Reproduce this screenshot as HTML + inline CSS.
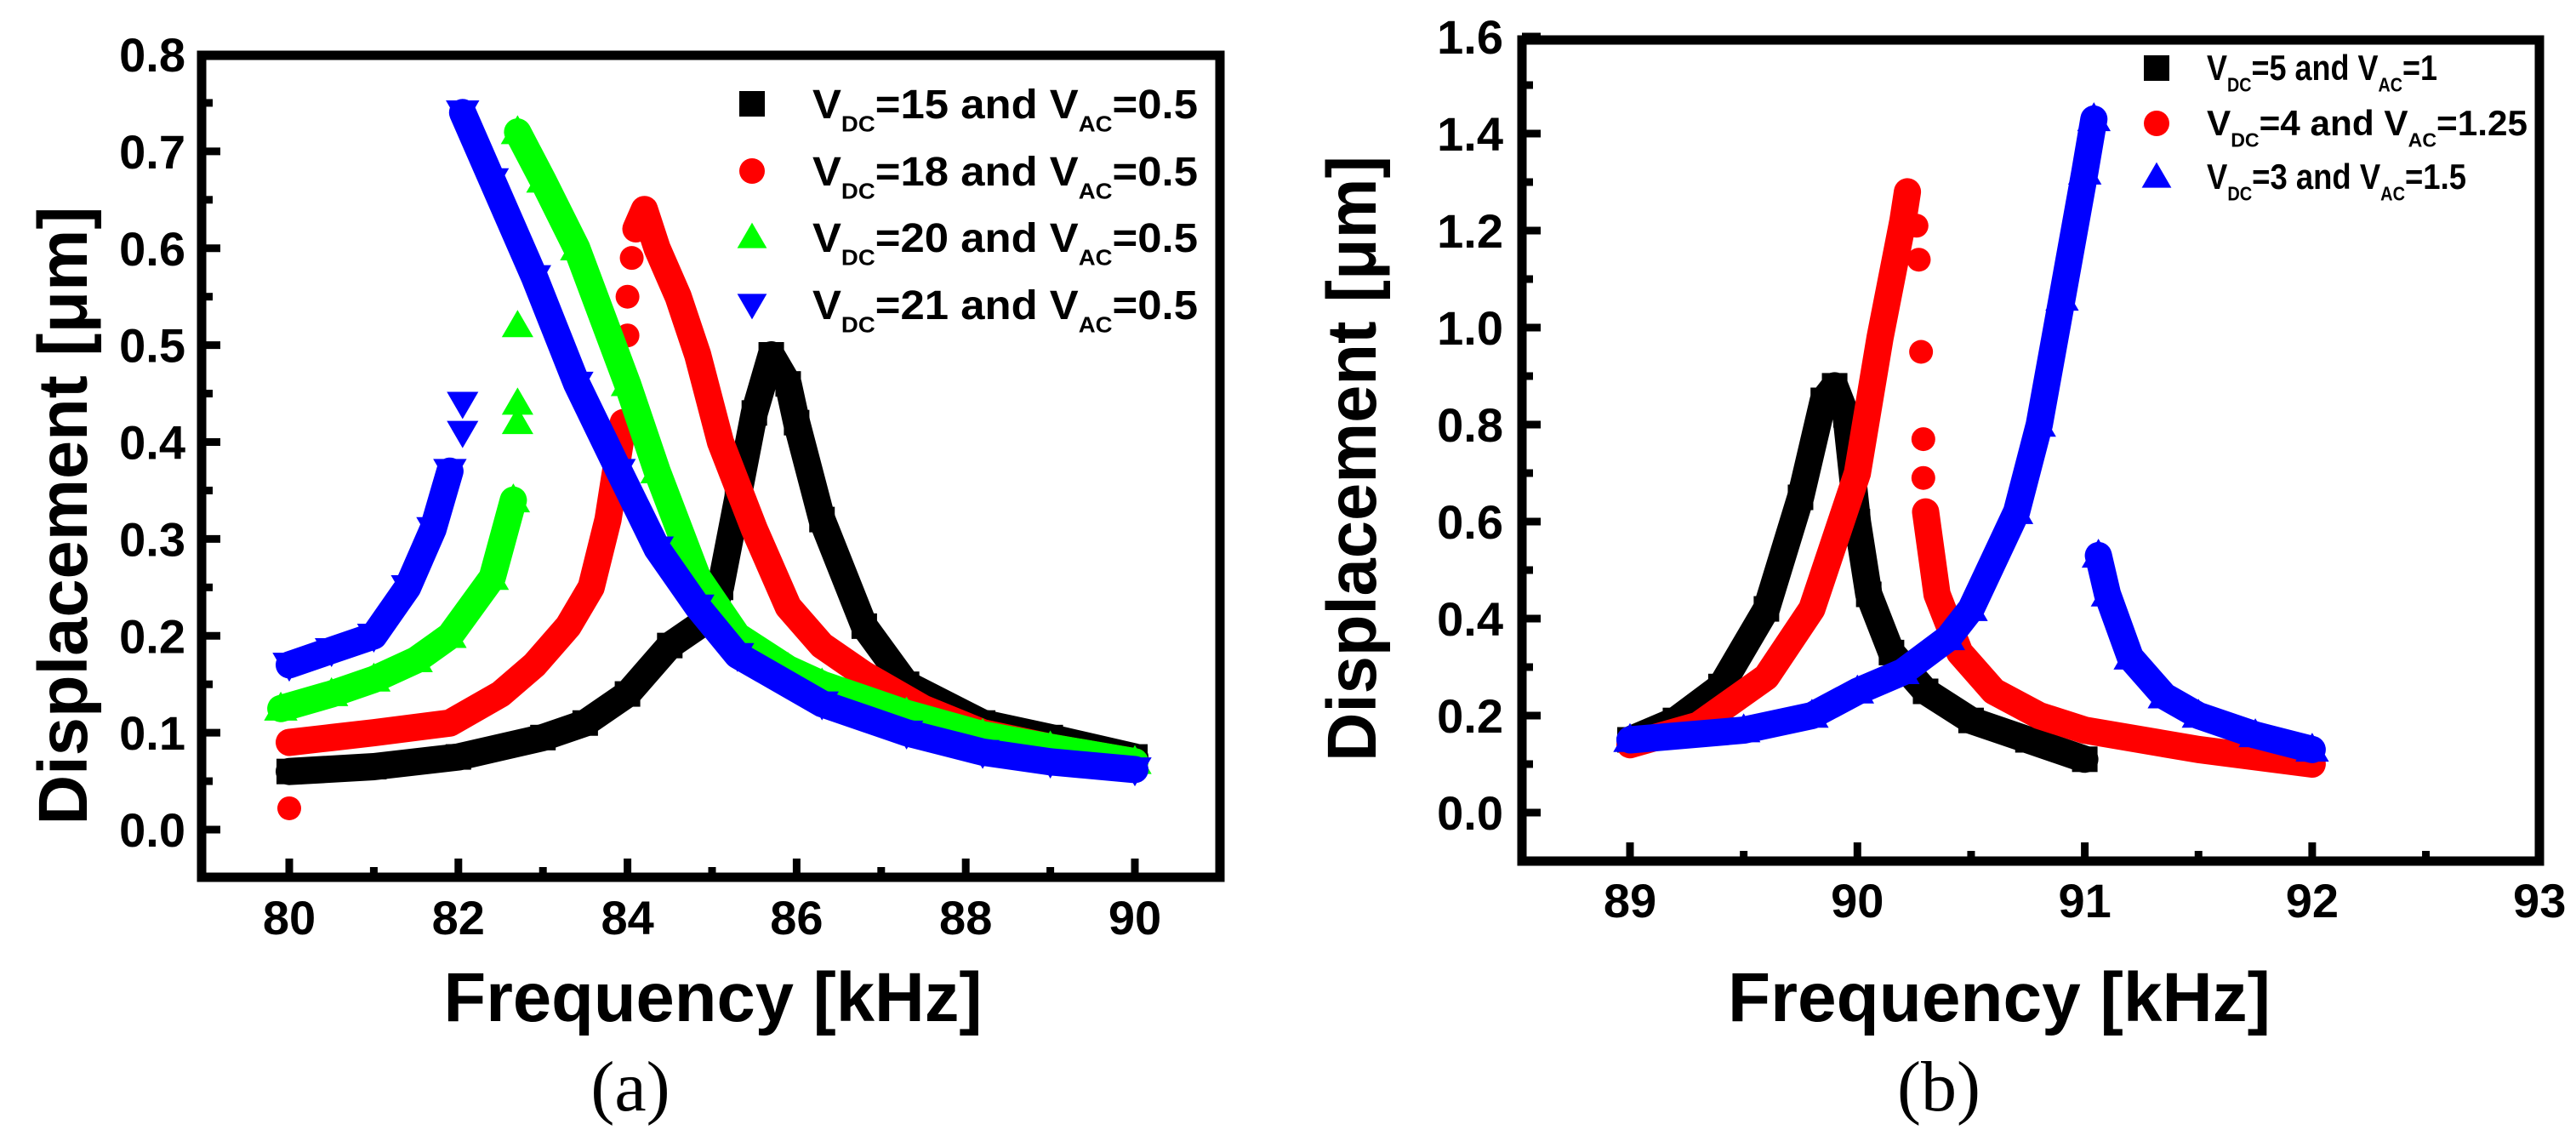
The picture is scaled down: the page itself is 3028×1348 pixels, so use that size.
<!DOCTYPE html>
<html><head><meta charset="utf-8"><style>
html,body{margin:0;padding:0;background:#fff}
svg{display:block}
text{font-family:"Liberation Sans",Arial,sans-serif;font-weight:bold;fill:#000}
.serif{font-family:"Liberation Serif",serif;font-weight:normal}
</style></head><body>
<svg id="fig" width="3028" height="1348" viewBox="0 0 3028 1348" xmlns="http://www.w3.org/2000/svg">
<rect x="0" y="0" width="3028" height="1348" fill="#fff"/>
<g id="pa"></g>
<g id="pb"></g>
<text x="741" y="1305" font-size="84" text-anchor="middle" class="serif">(a)</text>
<text x="2279" y="1305" font-size="84" text-anchor="middle" class="serif">(b)</text>
</svg>
<script>
// ---- Panel (a) data ----
const aBlackF=[80,81,82,83,83.5,84,84.5,85,85.1,85.3,85.5,85.7,85.9,86.0,86.3,86.8,87.3,88.2,89,90];
const aBlackV=[0.06,0.065,0.075,0.095,0.11,0.14,0.19,0.22,0.25,0.34,0.43,0.49,0.46,0.42,0.32,0.21,0.15,0.11,0.095,0.075];
const aRedLowF=[80,80.5,81,81.9,82.5,82.9,83.3,83.57,83.77,83.95];
const aRedLowV=[0.09,0.095,0.1,0.11,0.14,0.17,0.21,0.25,0.32,0.42];
const aRedJumpF=[84.0,84.0,84.05];
const aRedJumpV=[0.51,0.55,0.59];
const aRedHighF=[84.1,84.2,84.35,84.6,84.83,85.1,85.5,85.9,86.3,86.8,87.5,88.2,89,90];
const aRedHighV=[0.62,0.64,0.6,0.55,0.49,0.4,0.31,0.23,0.19,0.16,0.125,0.1,0.085,0.07];
const aRedOutF=[80];
const aRedOutV=[0.022];
const aGreenLowF=[79.9,80.5,81,81.5,81.9,82.4,82.65];
const aGreenLowV=[0.125,0.14,0.155,0.175,0.2,0.26,0.34];
const aGreenJumpF=[82.7,82.7,82.7];
const aGreenJumpV=[0.42,0.44,0.52];
const aGreenHighF=[82.7,83.0,83.4,84,84.35,84.83,85.3,85.9,86.3,87.3,88.2,89,90];
const aGreenHighV=[0.72,0.67,0.6,0.46,0.37,0.26,0.2,0.166,0.15,0.12,0.098,0.085,0.07];
const aBlueLowF=[80,80.5,81,81.4,81.7,81.9];
const aBlueLowV=[0.17,0.185,0.2,0.25,0.31,0.37];
const aBlueJumpF=[82.05,82.05];
const aBlueJumpV=[0.41,0.44];
const aBlueHighF=[82.05,82.4,82.9,83.4,83.9,84.35,84.83,85.3,86.3,87.3,88.2,89,90];
const aBlueHighV=[0.74,0.67,0.57,0.46,0.37,0.29,0.23,0.18,0.13,0.1,0.08,0.07,0.062];
const aYTicks=["0.0","0.1","0.2","0.3","0.4","0.5","0.6","0.7","0.8"];
const aXTicks=["80","82","84","86","88","90"];
// ---- Panel (b) data ----
const bBlackF=[89,89.2,89.4,89.6,89.75,89.85,89.9,89.95,90,90.05,90.15,90.3,90.5,90.75,91];
const bBlackV=[0.15,0.19,0.26,0.42,0.65,0.85,0.88,0.82,0.6,0.45,0.33,0.25,0.19,0.15,0.11];
const bRedHighF=[89,89.3,89.6,89.8,90,90.1,90.2,90.22];
const bRedHighV=[0.14,0.18,0.28,0.42,0.7,0.98,1.22,1.28];
const bRedJumpF=[90.26,90.27,90.28,90.29,90.29];
const bRedJumpV=[1.21,1.14,0.95,0.77,0.69];
const bRedLowF=[90.3,90.35,90.45,90.6,90.8,91,91.5,92];
const bRedLowV=[0.62,0.45,0.33,0.25,0.2,0.17,0.13,0.1];
const bBlueHighF=[89,89.5,89.8,90,90.2,90.4,90.5,90.7,90.8,90.9,91,91.04];
const bBlueHighV=[0.15,0.17,0.2,0.25,0.29,0.36,0.42,0.62,0.8,1.06,1.32,1.43];
const bBlueLowF=[91.06,91.1,91.2,91.35,91.5,91.75,92];
const bBlueLowV=[0.53,0.45,0.32,0.24,0.2,0.16,0.13];
const bYTicks=["0.0","0.2","0.4","0.6","0.8","1.0","1.2","1.4","1.6"];
const bXTicks=["89","90","91","92","93"];

const NS="http://www.w3.org/2000/svg";
function mk(tag,attrs,parent){const e=document.createElementNS(NS,tag);for(const k in attrs)e.setAttribute(k,attrs[k]);parent.appendChild(e);return e;}

function makeAxes(cfg){
  return {x:f=>cfg.x0+(f-cfg.f0)*cfg.pxF, y:v=>cfg.y0-v*cfg.pxV};
}
function marker(g,shape,cx,cy,s,color){
  let e;
  if(shape==='sq'){e=mk('rect',{x:cx-s/2,y:cy-s/2,width:s,height:s,fill:color},g);}
  else if(shape==='ci'){e=mk('circle',{cx:cx,cy:cy,r:s/2,fill:color},g);}
  else if(shape==='up'){e=mk('polygon',{points:`${cx},${cy-s*0.58} ${cx-s*0.58},${cy+s*0.42} ${cx+s*0.58},${cy+s*0.42}`,fill:color},g);}
  else {e=mk('polygon',{points:`${cx},${cy+s*0.58} ${cx-s*0.58},${cy-s*0.42} ${cx+s*0.58},${cy-s*0.42}`,fill:color},g);}
  return e;
}
function band(g,ax,F,V,color,w,shape,s,name){
  let d='';
  for(let i=0;i<F.length;i++){d+=(i?'L':'M')+ax.x(F[i]).toFixed(1)+' '+ax.y(V[i]).toFixed(1);}
  if(F.length>1){
    const p=mk('path',{d:d,fill:'none',stroke:color,'stroke-width':w,'stroke-linejoin':'round','stroke-linecap':'round'},g);
    
    
  }
  for(let i=0;i<F.length;i++){
    const m=marker(g,shape,ax.x(F[i]),ax.y(V[i]),s,color);
    
    
  }
}
function points(g,ax,F,V,color,shape,s,name){
  for(let i=0;i<F.length;i++){
    const m=marker(g,shape,ax.x(F[i]),ax.y(V[i]),s,color);
    
    
  }
}
function frame(g,cfg,ax,yTicks,xTicks,yStep,xStep){
  const fr=mk('rect',{x:cfg.L,y:cfg.T,width:cfg.R-cfg.L,height:cfg.B-cfg.T,fill:'none',stroke:'#000','stroke-width':11},g);
  
  
  for(let i=0;i<yTicks.length;i++){
    const v=i*yStep, y=ax.y(v);
    const t=mk('line',{x1:cfg.L,x2:cfg.L+22,y1:y,y2:y,stroke:'#000','stroke-width':9},g);
    
    
    if(i<yTicks.length-1){
      const ym=ax.y(v+yStep/2);
      const tm=mk('line',{x1:cfg.L,x2:cfg.L+13,y1:ym,y2:ym,stroke:'#000','stroke-width':9},g);
      
      
    }
    const lb=mk('text',{x:cfg.ylabX,y:y+20,'font-size':56,'text-anchor':'end'},g);
    lb.textContent=yTicks[i];
    
    
  }
  for(let i=0;i<xTicks.length;i++){
    const f=parseFloat(xTicks[i]), x=ax.x(f);
    if(x<cfg.R-8){
      const t=mk('line',{x1:x,x2:x,y1:cfg.B,y2:cfg.B-22,stroke:'#000','stroke-width':9},g);
      
      
    }
    if(i<xTicks.length-1){
      const xm=ax.x(f+xStep/2);
      const tm=mk('line',{x1:xm,x2:xm,y1:cfg.B,y2:cfg.B-12,stroke:'#000','stroke-width':9},g);
      
      
    }
    const lb=mk('text',{x:x,y:cfg.xlabY,'font-size':56,'text-anchor':'middle'},g);
    lb.textContent=xTicks[i];
    
    
  }
}
function legendText(g,x,y,fs,sub,dc,ac,len){
  const t=mk('text',{x:x,y:y,'font-size':fs,textLength:len,lengthAdjust:'spacingAndGlyphs'},g);
  t.innerHTML=`V<tspan font-size="${sub}" dy="${fs*0.32}">DC</tspan><tspan dy="${-fs*0.32}">=${dc} and V</tspan><tspan font-size="${sub}" dy="${fs*0.32}">AC</tspan><tspan dy="${-fs*0.32}">=${ac}</tspan>`;
  
  
}

// ---- Panel a ----
const ga=document.getElementById('pa');
const cfgA={L:237,R:1434,T:65,B:1031,x0:340,f0:80,pxF:99.4,y0:975,pxV:1138.75,ylabX:218,xlabY:1098};
const axA=makeAxes(cfgA);
frame(ga,cfgA,axA,aYTicks,aXTicks,0.1,2);
band(ga,axA,aBlackF,aBlackV,'#000',32,'sq',30,'series-vdc15');
band(ga,axA,aRedLowF,aRedLowV,'#ff0000',32,'ci',30,'series-vdc18');
band(ga,axA,aRedHighF,aRedHighV,'#ff0000',32,'ci',30,'series-vdc18');
points(ga,axA,aRedJumpF,aRedJumpV,'#ff0000','ci',28,'series-vdc18-jump');
points(ga,axA,aRedOutF,aRedOutV,'#ff0000','ci',28,'series-vdc18-outlier');
band(ga,axA,aGreenLowF,aGreenLowV,'#00ff00',32,'up',34,'series-vdc20');
band(ga,axA,aGreenHighF,aGreenHighV,'#00ff00',32,'up',34,'series-vdc20');
points(ga,axA,aGreenJumpF,aGreenJumpV,'#00ff00','up',32,'series-vdc20-jump');
band(ga,axA,aBlueLowF,aBlueLowV,'#0000ff',32,'dn',34,'series-vdc21');
band(ga,axA,aBlueHighF,aBlueHighV,'#0000ff',32,'dn',34,'series-vdc21');
points(ga,axA,aBlueJumpF,aBlueJumpV,'#0000ff','dn',32,'series-vdc21-jump');
const legA=[['sq','#000','15','0.5',122],['ci','#ff0000','18','0.5',201],['up','#00ff00','20','0.5',279],['dn','#0000ff','21','0.5',358]];
legA.forEach(r=>{
  const m=marker(ga,r[0],884,r[4],30,r[1]);
  
  
  legendText(ga,955,r[4]+17,48,26,r[2],r[3],453);
});
const xtA=mk('text',{x:838,y:1200,'font-size':82,'text-anchor':'middle',textLength:633,lengthAdjust:'spacingAndGlyphs'},ga);
xtA.textContent='Frequency [kHz]';


const ytA=mk('text',{x:0,y:0,'font-size':82,'text-anchor':'middle',textLength:727,lengthAdjust:'spacingAndGlyphs',transform:'translate(102,606) rotate(-90)'},ga);
ytA.textContent='Displacement [\u03bcm]';



// ---- Panel b ----
const gb=document.getElementById('pb');
const cfgB={L:1789,R:2985,T:47,B:1012,x0:1916,f0:89,pxF:267.3,y0:955,pxV:570,ylabX:1767,xlabY:1078};
const axB=makeAxes(cfgB);
frame(gb,cfgB,axB,bYTicks,bXTicks,0.2,1);
band(gb,axB,bBlackF,bBlackV,'#000',32,'sq',30,'series-vdc5');
band(gb,axB,bRedHighF,bRedHighV,'#ff0000',32,'ci',30,'series-vdc4');
points(gb,axB,bRedJumpF,bRedJumpV,'#ff0000','ci',28,'series-vdc4-jump');
band(gb,axB,bRedLowF,bRedLowV,'#ff0000',32,'ci',30,'series-vdc4');
band(gb,axB,bBlueHighF,bBlueHighV,'#0000ff',32,'up',34,'series-vdc3');
band(gb,axB,bBlueLowF,bBlueLowV,'#0000ff',32,'up',34,'series-vdc3');
const legB=[['sq','#000','5','1',80,271],['ci','#ff0000','4','1.25',145,377],['up','#0000ff','3','1.5',208,305]];
legB.forEach(r=>{
  const m=marker(gb,r[0],2535,r[4],30,r[1]);
  
  
  legendText(gb,2594,r[4]+14,42,23,r[2],r[3],r[5]);
});
const xtB=mk('text',{x:2350,y:1200,'font-size':82,'text-anchor':'middle',textLength:638,lengthAdjust:'spacingAndGlyphs'},gb);
xtB.textContent='Frequency [kHz]';


const ytB=mk('text',{x:0,y:0,'font-size':82,'text-anchor':'middle',textLength:712,lengthAdjust:'spacingAndGlyphs',transform:'translate(1617,539) rotate(-90)'},gb);
ytB.textContent='Displacement [\u03bcm]';


</script>
</body></html>
